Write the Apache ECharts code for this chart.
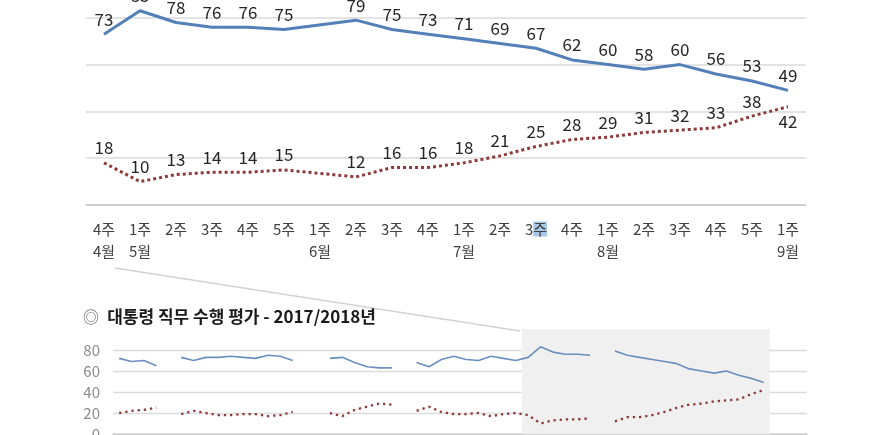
<!DOCTYPE html>
<html>
<head>
<meta charset="utf-8">
<script src="https://cdn.jsdelivr.net/npm/echarts/dist/echarts.min.js"></script>
<style>
  html, body { margin: 0; padding: 0; background: #fff; }
  #chart { width: 871px; height: 435px; }
</style>
</head>
<body>
<div id="chart"></div>
<script>
// 주간 라벨 (4월 4주 ~ 9월 1주)
var weekLabels = ['4주','1주','2주','3주','4주','5주','1주','2주','3주','4주','1주','2주','3주','4주','1주','2주','3주','4주','5주','1주'];
var monthLabels = ['4월','5월','','','','','6월','','','','7월','','','','8월','','','','','9월'];
// 직무 긍정률 / 부정률 (%), 6월 1주는 조사 없음
var approval = [73,83,78,76,76,75,null,79,75,73,71,69,67,62,60,58,60,56,53,49];
var disapproval = [18,10,13,14,14,15,null,12,16,16,18,21,25,28,29,31,32,33,38,42];

// 2017/2018년 추이 (주 단위, null = 조사 없음)
var miniApproval = [72,69,70,65,null,
  73,70,73,73,74,73,72,75,74,70,null,null,
  72,73,68,64,63,63,null,
  68,64,71,74,71,70,74,72,70,73,83,78,76,76,75,null,
  79,75,73,71,69,67,62,60,58,60,56,53,49];
var miniDisapproval = [20,22,23,25,null,
  19,22,20,18,18,19,19,17,18,21,null,null,
  20,17,23,26,29,28,null,
  22,26,21,19,19,20,17,19,20,18,10,13,14,14,15,null,
  12,16,16,18,21,25,28,29,31,32,33,38,42];
var miniSlots = 56;        // 축에 잡힌 주 수
var zoomFrom = 33;         // 위 그래프 구간 (회색 영역)
var zoomTo = 52;

var FONT = "'Noto Sans CJK KR', 'Noto Sans', sans-serif";
var chart = echarts.init(document.getElementById('chart'));

function pairs(arr) {
  return arr.map(function (v, i) { return [i, v]; });
}

// 값 라벨 공통
var valueLabel = { show: true, position: 'top', distance: 6, fontSize: 17, color: '#262626', fontFamily: FONT };

var option = {
  animation: false,
  backgroundColor: '#fff',
  textStyle: { fontFamily: FONT },
  title: {
    left: 78,
    top: 303,
    text: '{c|◎}  {b|대통령 직무 수행 평가 - 2017/2018년}',
    textStyle: {
      rich: {
        c: { fontSize: 16, color: '#777', fontFamily: FONT },
        b: { fontSize: 17, fontWeight: 'bold', color: '#1a1a1a', fontFamily: FONT }
      }
    }
  },
  grid: [
    { left: 86, right: 65, top: -29, bottom: 230, outerBoundsMode: 'none' },
    { left: 113, right: 64, top: 329, bottom: 1, outerBoundsMode: 'none' }
  ],
  xAxis: [
    {
      type: 'category',
      gridIndex: 0,
      data: weekLabels,
      axisLine: { lineStyle: { color: '#c8c8c8', width: 1.5 } },
      axisTick: { length: 4, lineStyle: { color: '#c8c8c8', width: 1.5 } },
      axisLabel: {
        interval: 0,
        margin: 13,
        fontSize: 15,
        lineHeight: 22,
        color: '#404040',
        fontFamily: FONT,
        formatter: function (v, i) {
          var w = i === 12 ? '3{hl|주}' : v;
          return monthLabels[i] ? w + '\n' + monthLabels[i] : w;
        },
        rich: {
          hl: { backgroundColor: '#a9c9e8', fontSize: 15, color: '#404040', lineHeight: 22, fontFamily: FONT }
        }
      }
    },
    {
      type: 'value',
      gridIndex: 1,
      min: -0.5,
      max: miniSlots - 0.5,
      axisLine: { show: true, onZero: false, lineStyle: { color: '#d0d0d0', width: 1.5 } },
      axisTick: { show: false },
      axisLabel: { show: false },
      splitLine: { show: false }
    }
  ],
  yAxis: [
    {
      type: 'value',
      gridIndex: 0,
      min: 0,
      max: 100,
      interval: 20,
      axisLine: { show: false },
      axisTick: { show: false },
      axisLabel: { show: false },
      splitLine: { lineStyle: { color: '#dadada', width: 1.5 } }
    },
    {
      type: 'value',
      gridIndex: 1,
      min: 0,
      max: 100,
      interval: 20,
      axisLine: { show: false },
      axisTick: { show: false },
      axisLabel: {
        margin: 13,
        fontSize: 15,
        color: '#8c8c8c',
        fontFamily: FONT,
        formatter: function (v) { return v > 80 ? '' : v; }
      },
      splitLine: {
        lineStyle: {
          color: ['#dcdcdc', '#dcdcdc', '#dcdcdc', '#dcdcdc', '#dcdcdc', 'rgba(0,0,0,0)'],
          width: 1.3
        }
      }
    }
  ],
  series: [
    {
      name: '긍정률',
      type: 'line',
      xAxisIndex: 0,
      yAxisIndex: 0,
      data: approval,
      connectNulls: true,
      symbol: 'circle',
      symbolSize: 1,
      showSymbol: true,
      itemStyle: { color: 'rgba(0,0,0,0)' },
      clip: false,
      lineStyle: { color: '#5480b8', width: 3 },
      label: valueLabel
    },
    {
      name: '부정률',
      type: 'line',
      xAxisIndex: 0,
      yAxisIndex: 0,
      data: disapproval.map(function (v, i) {
        return i === disapproval.length - 1 ? { value: v, label: { position: 'bottom' } } : v;
      }),
      connectNulls: true,
      symbol: 'circle',
      symbolSize: 1,
      showSymbol: true,
      itemStyle: { color: 'rgba(0,0,0,0)' },
      clip: false,
      lineStyle: { color: '#8f3a3a', width: 3, type: [3, 3] },
      label: valueLabel
    },
    {
      name: '긍정률 추이',
      type: 'line',
      xAxisIndex: 1,
      yAxisIndex: 1,
      data: pairs(miniApproval),
      symbol: 'none',
      lineStyle: { color: '#6a8fbf', width: 1.6 },
      markArea: {
        silent: true,
        itemStyle: { color: '#f0f0f0' },
        data: [[{ xAxis: zoomFrom - 0.5 }, { xAxis: zoomTo + 0.5 }]]
      },
      z: 3
    },
    {
      name: '부정률 추이',
      type: 'line',
      xAxisIndex: 1,
      yAxisIndex: 1,
      data: pairs(miniDisapproval),
      symbol: 'none',
      lineStyle: { color: '#8f3a3a', width: 2.3, type: [2.3, 3.9] },
      z: 3
    }
  ],
  graphic: [
    {
      type: 'line',
      shape: { x1: 115, y1: 268, x2: 520, y2: 331 },
      style: { stroke: '#d2d2d2', lineWidth: 1.5 },
      z: 1
    }
  ]
};

chart.setOption(option);
</script>
</body>
</html>
